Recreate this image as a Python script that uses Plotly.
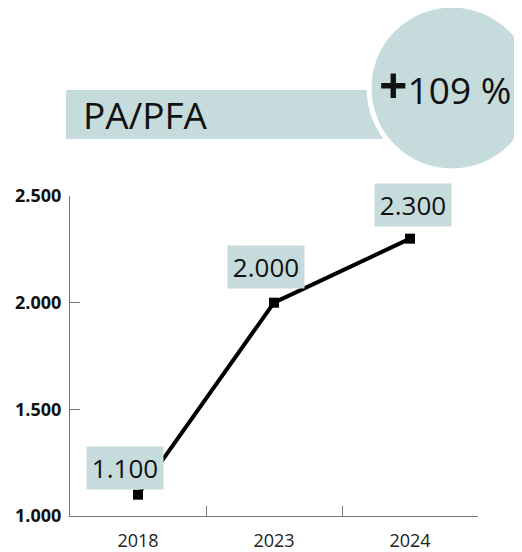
import plotly.graph_objects as go

years = ["2018", "2023", "2024"]
values = [1100, 2000, 2300]
value_labels = ["1.100", "2.000", "2.300"]
y_ticks = [1000, 1500, 2000, 2500]
y_tick_text = ["1.000", "1.500", "2.000", "2.500"]
title_text = "PA/PFA"
change_text = "+109 %"

OFF = 8  # page body margin
W, H = 522 - OFF, 552 - OFF
L, R, T, B = 70 - OFF, 44, 196 - OFF, 36
BOX = "#c6dbdb"
FONT = "Open Sans"


def px(x):
    # screen pixel -> paper (x)
    return (x - OFF - L) / (W - L - R)


def py(y):
    # screen pixel -> paper (y)
    return (H - B - (y - OFF)) / (H - T - B)


fig = go.Figure()
fig.add_trace(go.Scatter(
    x=years, y=values, mode="lines+markers",
    line=dict(color="black", width=4),
    marker=dict(symbol="square", size=10, color="black"),
    hoverinfo="skip", showlegend=False,
))

# value boxes (category index positions)
shifts = [(-13, 27), (-8, 36), (3, 34)]
for i, (v, lab, (dx, dy)) in enumerate(zip(values, value_labels, shifts)):
    fig.add_annotation(
        x=i, y=v, xref="x", yref="y", text=lab, showarrow=False,
        xshift=dx, yshift=dy, width=70, height=36, bgcolor=BOX, borderpad=3,
        font=dict(family=FONT, size=26, color="#111"),
    )

# title bar and circle
fig.add_shape(type="rect", xref="paper", yref="paper",
              x0=px(66), x1=px(400), y0=py(139), y1=py(90),
              fillcolor=BOX, line_width=0, layer="above")
fig.add_shape(type="circle", xref="paper", yref="paper",
              x0=px(369), x1=px(535), y0=py(171), y1=py(5),
              fillcolor=BOX, line=dict(color="white", width=5), layer="above")
fig.add_annotation(x=px(81), y=py(115), xref="paper", yref="paper",
                   text=title_text, showarrow=False, xanchor="left", yanchor="middle",
                   font=dict(family=FONT, size=37, color="#111"))
fig.add_annotation(x=px(377), y=py(85), xref="paper", yref="paper",
                   text="<span style='font-size:50px'><b>" + change_text[0] + "</b></span>" + change_text[1:],
                   showarrow=False, xanchor="left", yanchor="middle",
                   font=dict(family=FONT, size=37, color="#111"))

fig.update_layout(
    width=W, height=H, margin=dict(l=L, r=R, t=T, b=B),
    plot_bgcolor="white", paper_bgcolor="white",
    xaxis=dict(
        type="category", range=[-0.5, 2.5], tickson="boundaries",
        ticks="inside", ticklen=10, tickcolor="#777", tickwidth=1.2,
        showline=True, linecolor="#777", linewidth=1.2, showgrid=False,
        tickfont=dict(family=FONT, size=18, color="#222"), ticklabelstandoff=8,
        automargin=False, fixedrange=True,
    ),
    yaxis=dict(
        range=[1000, 2500], tickvals=y_ticks, ticktext=y_tick_text,
        ticks="inside", ticklen=10, tickcolor="#777", tickwidth=1.2,
        showline=True, linecolor="#777", linewidth=1.2, showgrid=False, zeroline=False,
        tickfont=dict(family=FONT, size=18, color="#111", weight=700),
        ticklabelstandoff=4, automargin=False, fixedrange=True,
    ),
)

fig.write_html("out.html")
